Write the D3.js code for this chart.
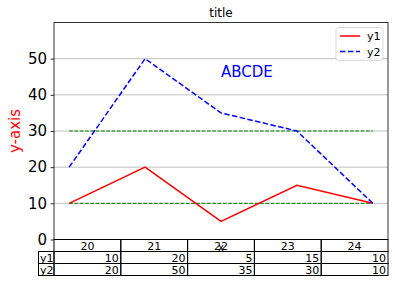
<!DOCTYPE html>
<meta charset="utf-8">
<style>
html, body {
  margin: 0;
  padding: 0;
  background: #fff;
}
svg {
  display: block;
  font-family: "DejaVu Sans", sans-serif;
}
</style>
<svg width="395" height="283"></svg>
<script src="https://d3js.org/d3.v7.min.js"></script>
<script>
// chart values
const xs = [20, 21, 22, 23, 24];
const y1 = [10, 20, 5, 15, 10];
const y2 = [20, 50, 35, 30, 10];
const hlineValues = [10, 30];
const yTicks = [0, 10, 20, 30, 40, 50];
const rowLabels = ['y1', 'y2'];

const svg = d3.select('svg');
const m = {left: 54, top: 22.5, right: 388, bottom: 239.5};

const x = d3.scaleLinear().domain([19.8, 24.2]).range([m.left, m.right]);
const y = d3.scaleLinear().domain([0, 60]).range([m.bottom, m.top]);

// grid
svg.append('g')
  .selectAll('line')
  .data(yTicks)
  .enter()
  .append('line')
  .attr('x1', m.left)
  .attr('x2', m.right)
  .attr('y1', d => y(d))
  .attr('y2', d => y(d))
  .attr('stroke', '#b0b0b0')
  .attr('stroke-width', 0.8);

// horizontal dashed lines
svg.append('g')
  .selectAll('line')
  .data(hlineValues)
  .enter()
  .append('line')
  .attr('x1', x(xs[0]))
  .attr('x2', x(xs[xs.length - 1]))
  .attr('y1', d => y(d))
  .attr('y2', d => y(d))
  .attr('stroke', '#008000')
  .attr('stroke-width', 1)
  .attr('stroke-dasharray', '3.7,1.6');

const line = d3.line()
  .x((d, i) => x(xs[i]))
  .y(d => y(d));

svg.append('path')
  .datum(y1)
  .attr('fill', 'none')
  .attr('stroke', '#ff0000')
  .attr('stroke-width', 1.5)
  .attr('d', line);

svg.append('path')
  .datum(y2)
  .attr('fill', 'none')
  .attr('stroke', '#0000ff')
  .attr('stroke-width', 1.5)
  .attr('stroke-dasharray', '5.5,2.4')
  .attr('d', line);

// annotation
svg.append('text')
  .attr('x', x(22))
  .attr('y', y(45))
  .attr('fill', '#0000ff')
  .attr('font-size', 15)
  .text('ABCDE');

// y axis
const yAxis = svg.append('g')
  .attr('transform', `translate(${m.left},0)`)
  .call(d3.axisLeft(y).tickValues(yTicks).tickSize(3.5).tickPadding(3.5).tickFormat(d3.format('d')));
yAxis.select('.domain').remove();
yAxis.selectAll('.tick line').attr('stroke', '#000').attr('stroke-width', 0.8);
yAxis.selectAll('.tick text')
  .attr('font-size', 15)
  .attr('font-family', '"DejaVu Sans", sans-serif')
  .attr('fill', '#000');

// frame
svg.append('rect')
  .attr('x', m.left)
  .attr('y', m.top)
  .attr('width', m.right - m.left)
  .attr('height', m.bottom - m.top)
  .attr('fill', 'none')
  .attr('stroke', '#000')
  .attr('stroke-width', 0.8);

// title & labels
svg.append('text')
  .attr('x', (m.left + m.right) / 2)
  .attr('y', 17)
  .attr('text-anchor', 'middle')
  .attr('font-size', 12)
  .text('title');

svg.append('text')
  .attr('transform', `translate(20,${(m.top + m.bottom) / 2}) rotate(-90)`)
  .attr('text-anchor', 'middle')
  .attr('font-size', 15)
  .attr('fill', '#ff0000')
  .text('y-axis');

// legend
const lg = svg.append('g').attr('transform', 'translate(336,27.5)');
lg.append('rect')
  .attr('width', 47)
  .attr('height', 33)
  .attr('rx', 2)
  .attr('fill', '#fff')
  .attr('fill-opacity', 0.8)
  .attr('stroke', '#d0d0d0')
  .attr('stroke-width', 0.8);
const entries = [
  {name: 'y1', color: '#ff0000', dash: null},
  {name: 'y2', color: '#0000ff', dash: '5.5,2.4'}
];
entries.forEach((e, i) => {
  const cy = 8.5 + i * 15.5;
  lg.append('line')
    .attr('x1', 4).attr('x2', 24)
    .attr('y1', cy).attr('y2', cy)
    .attr('stroke', e.color)
    .attr('stroke-width', 1.5)
    .attr('stroke-dasharray', e.dash);
  lg.append('text')
    .attr('x', 31)
    .attr('y', cy + 4)
    .attr('font-size', 11)
    .text(e.name);
});

// table
const rowH = 12;
const colW = (m.right - m.left) / xs.length;
const tb = svg.append('g').attr('font-size', 11);
const rows = [xs].concat([y1, y2]);
rows.forEach((vals, r) => {
  const top = m.bottom + r * rowH;
  vals.forEach((v, c) => {
    const left = m.left + c * colW;
    tb.append('rect')
      .attr('x', left).attr('y', top)
      .attr('width', colW).attr('height', rowH)
      .attr('fill', 'none')
      .attr('stroke', '#000')
      .attr('stroke-width', 1);
    tb.append('text')
      .attr('x', r === 0 ? left + colW / 2 : left + colW - 2)
      .attr('y', top + rowH - 2)
      .attr('text-anchor', r === 0 ? 'middle' : 'end')
      .text(v);
  });
  if (r > 0) {
    tb.append('rect')
      .attr('x', 38.5).attr('y', top)
      .attr('width', m.left - 38.5).attr('height', rowH)
      .attr('fill', 'none')
      .attr('stroke', '#000')
      .attr('stroke-width', 1);
    tb.append('text')
      .attr('x', 40)
      .attr('y', top + rowH - 2)
      .text(rowLabels[r - 1]);
  }
});

// x label, partly hidden behind the table header
svg.append('text')
  .attr('x', (m.left + m.right) / 2)
  .attr('y', 251)
  .attr('text-anchor', 'middle')
  .attr('font-size', 10)
  .text('x');
</script>
